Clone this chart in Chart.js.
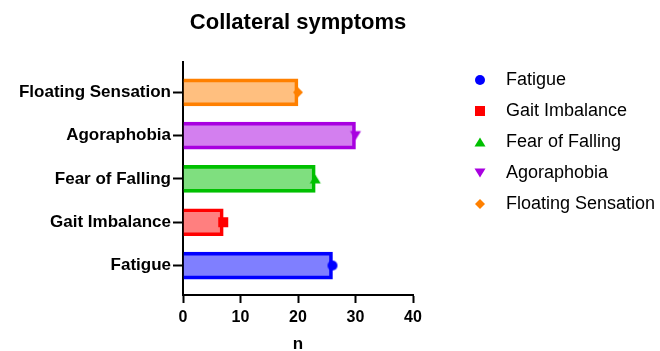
<!DOCTYPE html>
<html>
<head>
<meta charset="utf-8">
<script src="https://cdn.jsdelivr.net/npm/chart.js@4.4.1/dist/chart.umd.min.js"></script>
<style>
  html, body { margin: 0; padding: 0; background: #ffffff; }
  #wrap { width: 660px; height: 351px; }
</style>
</head>
<body>
<div id="wrap"><canvas id="c" width="660" height="351"></canvas></div>
<script>
// ---- data ----
const categories = ['Fatigue', 'Gait Imbalance', 'Fear of Falling', 'Agoraphobia', 'Floating Sensation'];
const values = [26, 7, 23, 30, 20];
const xTickValues = [0, 10, 20, 30, 40];
const titleText = 'Collateral symptoms';
const xTitle = 'n';

// ---- styles ----
const borderColors = ['#0000ff', '#ff0000', '#00c000', '#a800e0', '#ff8000'];
const fillColors = ['rgba(0,0,255,0.5)', 'rgba(255,0,0,0.5)', 'rgba(0,192,0,0.5)', 'rgba(168,0,224,0.5)', 'rgba(255,128,0,0.5)'];
const markerShapes = ['circle', 'square', 'triangleUp', 'triangleDown', 'diamond'];
const FONT = "'Liberation Sans', Arial, Helvetica, sans-serif";

function makeMarker(shape, color) {
  const c = document.createElement('canvas');
  c.width = 14; c.height = 14;
  const g = c.getContext('2d');
  g.fillStyle = color;
  g.beginPath();
  if (shape === 'circle') {
    g.arc(7, 7, 5, 0, Math.PI * 2);
  } else if (shape === 'square') {
    g.rect(2, 2, 10, 10);
  } else if (shape === 'triangleUp') {
    g.moveTo(7, 2.5); g.lineTo(12.5, 11.5); g.lineTo(1.5, 11.5);
  } else if (shape === 'triangleDown') {
    g.moveTo(1.5, 2.5); g.lineTo(12.5, 2.5); g.lineTo(7, 11.5);
  } else if (shape === 'diamond') {
    g.moveTo(7, 2); g.lineTo(12, 7); g.lineTo(7, 12); g.lineTo(2, 7);
  }
  g.closePath();
  g.fill();
  return c;
}
const markers = markerShapes.map((s, i) => makeMarker(s, borderColors[i]));

Chart.defaults.font.family = FONT;
Chart.defaults.color = '#000';

const barSets = categories.map((cat, i) => ({
  type: 'bar',
  label: cat,
  indexAxis: 'y',
  data: [{ x: values[i], y: i }],
  backgroundColor: fillColors[i],
  borderColor: borderColors[i],
  borderWidth: 3,
  borderSkipped: 'start',
  barThickness: 27,
  grouped: false,
  order: 2
}));
const pointSets = categories.map((cat, i) => ({
  type: 'scatter',
  label: cat + ' mean',
  data: [{ x: values[i], y: i }],
  pointStyle: markers[i],
  pointRadius: 5,
  showLine: false,
  order: 1
}));

new Chart(document.getElementById('c'), {
  type: 'bar',
  data: { datasets: [...barSets, ...pointSets] },
  options: {
    responsive: false,
    devicePixelRatio: 1,
    animation: false,
    events: [],
    layout: { padding: { top: 0, left: 0, right: 0, bottom: 0 } },
    scales: {
      x: {
        type: 'linear', position: 'bottom', min: 0, max: 40, offset: false,
        afterBuildTicks: s => { s.ticks = xTickValues.map(v => ({ value: v })); },
        grid: { display: true, offset: false, drawOnChartArea: false, drawTicks: true, tickLength: 8, tickWidth: 2, tickColor: '#000' },
        border: { display: true, color: '#000', width: 2 },
        ticks: { color: '#000', font: { family: FONT, size: 16, weight: 'bold' }, padding: 5, maxRotation: 0, autoSkip: false },
        title: { display: true, text: xTitle, color: '#000', font: { family: FONT, size: 17, weight: 'bold', lineHeight: 0.8 }, padding: { top: 0, bottom: 0 } },
        afterFit: s => { s.height = 56; }
      },
      y: {
        type: 'linear', position: 'left', min: -0.68, max: 4.7, offset: false,
        afterBuildTicks: s => { s.ticks = categories.map((c, i) => ({ value: i })); },
        grid: { display: true, offset: false, drawOnChartArea: false, drawTicks: true, tickLength: 10, tickWidth: 2, tickColor: '#000' },
        border: { display: true, color: '#000', width: 2 },
        ticks: { color: '#000', font: { family: FONT, size: 17, weight: 'bold' }, padding: 2, autoSkip: false,
                 callback: v => categories[v] },
        afterFit: s => { s.width = 183; }
      },
      yPad: {
        type: 'linear', position: 'right', display: true,
        grid: { display: false, drawTicks: false },
        border: { display: false },
        ticks: { display: false },
        afterFit: s => { s.width = 37; }
      }
    },
    plugins: {
      tooltip: { enabled: false },
      title: {
        display: true, text: titleText, fullSize: false, color: '#000',
        font: { family: FONT, size: 22, weight: 'bold', lineHeight: 1.2 },
        padding: { top: 10, bottom: 25.6 }
      },
      legend: {
        display: true, position: 'right', align: 'start', maxWidth: 210,
        title: { display: true, text: '', font: { size: 10, lineHeight: 1 }, padding: { top: 48, bottom: 0 } },
        labels: {
          usePointStyle: true, pointStyleWidth: 34, boxHeight: 18, padding: 13, color: '#000',
          font: { family: FONT, size: 18 },
          generateLabels: () => categories.map((c, i) => ({
            text: c, pointStyle: markers[i], fillStyle: borderColors[i], strokeStyle: borderColors[i],
            lineWidth: 0, hidden: false, datasetIndex: i, fontColor: '#000'
          }))
        }
      }
    }
  }
});
</script>
</body>
</html>
